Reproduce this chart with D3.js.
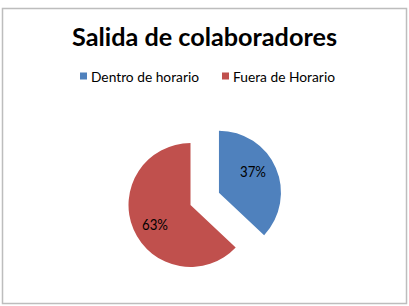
<!DOCTYPE html>
<html><head><meta charset="utf-8">
<script src="https://cdn.jsdelivr.net/npm/d3@7"></script>
<style>html,body{margin:0;padding:0;background:#fff;}</style>
</head><body>
<svg id="chart" width="409" height="306"></svg>
<script>
const title = "Salida de colaboradores";
const categories = ["Dentro de horario", "Fuera de Horario"];
const values = [37, 63];
const colors = ["#4F81BD", "#C0504D"];

const svg = d3.select("#chart");
svg.append("rect").attr("x", 2.5).attr("y", 8.5).attr("width", 404).attr("height", 295)
  .attr("fill", "#fff").attr("stroke", "#BDBDBD").attr("stroke-width", 1.5);

svg.append("text").attr("x", 204.5).attr("y", 45.5).attr("text-anchor", "middle")
  .attr("font-family", "Lato, 'Open Sans', sans-serif").attr("font-weight", "bold")
  .attr("font-size", 25).attr("fill", "#000")
  .attr("textLength", 265).attr("lengthAdjust", "spacingAndGlyphs").text(title);

// legend
const legendX = [80, 222];
const legendW = [108, 102];
const lg = svg.append("g");
categories.forEach((c, i) => {
  lg.append("rect").attr("x", legendX[i]).attr("y", 72.5).attr("width", 7).attr("height", 7).attr("fill", colors[i]);
  lg.append("text").attr("x", legendX[i] + 11).attr("y", 81.5)
    .attr("font-family", "Lato, 'Open Sans', sans-serif").attr("font-size", 13).attr("fill", "#000")
    .attr("textLength", legendW[i]).attr("lengthAdjust", "spacingAndGlyphs").text(c);
});

const cx = 190.5, cy = 205, r = 62, explode = [31, 0];
const pie = d3.pie().sort(null).value(d => d)(values);
const arc = d3.arc().innerRadius(0).outerRadius(r);
const total = d3.sum(values);
const labelPos = [[34, -19.5], [-35.5, 21]];
pie.forEach((p, i) => {
  const mid = (p.startAngle + p.endAngle) / 2;
  const dx = Math.sin(mid) * explode[i], dy = -Math.cos(mid) * explode[i];
  const g = svg.append("g").attr("transform", `translate(${cx + dx},${cy + dy})`);
  g.append("path").attr("d", arc(p)).attr("fill", colors[i]);
  g.append("text").attr("x", labelPos[i][0]).attr("y", labelPos[i][1]).attr("text-anchor", "middle")
    .attr("dominant-baseline", "middle")
    .attr("font-family", "Lato, 'Open Sans', sans-serif").attr("font-size", 14.5).attr("fill", "#000")
    .attr("textLength", 26).attr("lengthAdjust", "spacingAndGlyphs")
    .text(Math.round(p.value / total * 100) + "%");
});
</script>
</body></html>
